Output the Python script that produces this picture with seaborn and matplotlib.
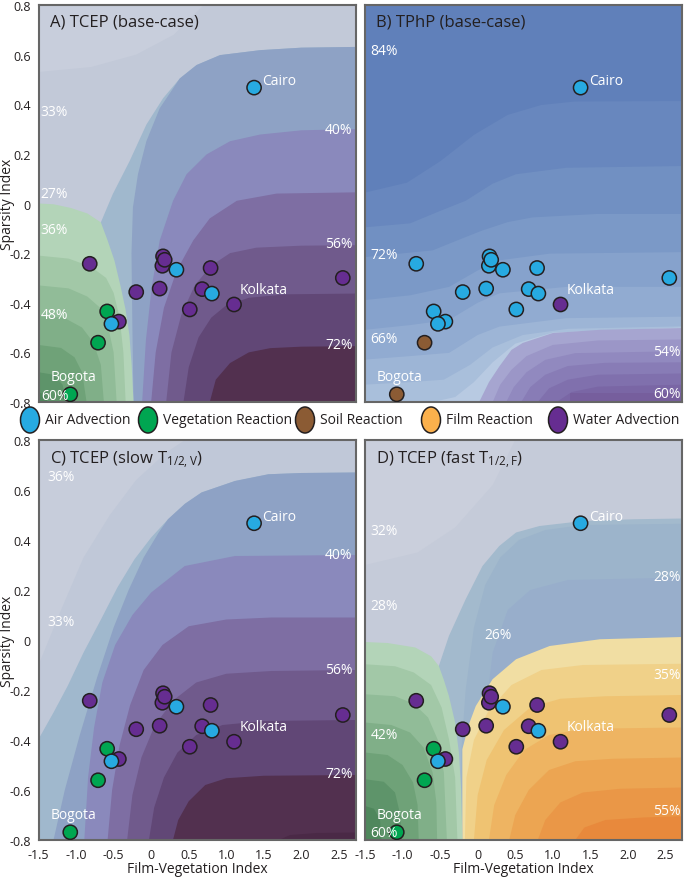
import matplotlib
matplotlib.use("Agg")
import matplotlib.pyplot as plt
from matplotlib.patches import Ellipse
import pandas as pd
import seaborn as sns

# ---- site positions (same in every panel) ----
fvi = [1.37, -0.818, -0.586, -0.707, -1.077, -0.430, -0.529, -0.199, 0.113, 0.158,
       0.149, 0.180, 0.336, 0.514, 0.679, 0.808, 0.791, 1.103, 2.551]
spi = [0.467, -0.243, -0.435, -0.561, -0.769, -0.476, -0.485, -0.357, -0.343, -0.213,
       -0.251, -0.227, -0.267, -0.427, -0.345, -0.363, -0.260, -0.407, -0.300]

# dominant process per site
dom_base = ["air", "water", "veg", "veg", "veg", "water", "air", "water", "water", "water",
            "water", "water", "air", "water", "water", "air", "water", "water", "water"]
dom_tphp = ["air", "air", "air", "soil", "soil", "air", "air", "air", "air", "air",
            "air", "air", "air", "air", "air", "air", "air", "water", "air"]

city_names = ["Cairo", "Kolkata", "Bogota"]
city_x = [1.48, 1.18, -1.344]
city_y = [0.495, -0.347, -0.699]

proc_keys = ["air", "veg", "soil", "film", "water"]
proc_labels = ["Air Advection", "Vegetation Reaction", "Soil Reaction", "Film Reaction", "Water Advection"]
proc_colors = ["#27aae1", "#00a651", "#8b5b34", "#fbb04c", "#662d91"]

XMIN, XMAX, YMIN, YMAX = -1.5, 2.72, -0.8, 0.8

# ---- contour band boundaries ----
grey_a = [(-0.67, -0.076), (-0.511, 0.038), (-0.287, 0.171), (-0.064, 0.318), (0.158, 0.424),
          (0.381, 0.504), (0.604, 0.558), (0.916, 0.598), (1.451, 0.618), (2.0, 0.628), (2.72, 0.631)]
wat_a = [
    [(-0.235, -0.8), (-0.25, -0.5), (-0.262, -0.2), (-0.243, -0.016), (-0.176, 0.118), (-0.064, 0.251),
     (0.114, 0.384), (0.381, 0.504), (0.604, 0.558), (0.916, 0.598), (1.451, 0.618), (2.0, 0.628), (2.72, 0.631)],
    [(-0.12, -0.8), (-0.07, -0.55), (0.01, -0.33), (0.114, -0.149), (0.291, 0.011), (0.471, 0.118),
     (0.738, 0.198), (1.05, 0.251), (1.451, 0.278), (2.0, 0.295), (2.72, 0.30)],
    [(0.0, -0.8), (0.06, -0.6), (0.17, -0.42), (0.34, -0.27), (0.56, -0.149), (0.78, -0.06),
     (1.14, 0.011), (1.67, 0.04), (2.72, 0.045)],
    [(0.2, -0.8), (0.27, -0.6), (0.4, -0.45), (0.58, -0.33), (0.8, -0.25), (1.05, -0.2),
     (1.4, -0.178), (2.0, -0.17), (2.72, -0.168)],
    [(0.43, -0.8), (0.5, -0.66), (0.63, -0.54), (0.8, -0.46), (1.0, -0.41), (1.3, -0.38),
     (1.8, -0.366), (2.72, -0.363)],
    [(0.78, -0.8), (0.86, -0.71), (1.05, -0.643), (1.3, -0.6), (1.584, -0.583), (2.0, -0.577), (2.72, -0.575)],
]
veg_a = [
    [(-1.5, 0.0), (-1.3, -0.003), (-1.07, -0.018), (-0.85, -0.04), (-0.67, -0.076), (-0.58, -0.149),
     (-0.49, -0.229), (-0.41, -0.33), (-0.34, -0.429), (-0.29, -0.53), (-0.26, -0.65), (-0.235, -0.8)],
    [(-1.5, -0.21), (-1.1, -0.222), (-0.8, -0.255), (-0.6, -0.3), (-0.5, -0.36), (-0.42, -0.46),
     (-0.37, -0.6), (-0.34, -0.8)],
    [(-1.5, -0.33), (-1.1, -0.342), (-0.85, -0.375), (-0.68, -0.42), (-0.57, -0.5), (-0.5, -0.6), (-0.46, -0.8)],
    [(-1.5, -0.45), (-1.15, -0.462), (-0.92, -0.5), (-0.77, -0.56), (-0.67, -0.65), (-0.63, -0.8)],
    [(-1.5, -0.57), (-1.2, -0.582), (-1.02, -0.62), (-0.92, -0.68), (-0.86, -0.8)],
    [(-1.5, -0.68), (-1.3, -0.69), (-1.18, -0.73), (-1.12, -0.8)],
    [(-1.5, -0.76), (-1.42, -0.77), (-1.38, -0.8)],
]

air_b = [
    [(-1.5, 0.044), (-0.941, 0.084), (-0.495, 0.171), (-0.048, 0.277), (0.399, 0.357), (0.846, 0.397),
     (1.292, 0.411), (2.72, 0.413)],
    [(-1.5, -0.096), (-0.9, -0.08), (-0.5, -0.03), (-0.16, 0.011), (0.2, 0.08), (0.51, 0.118), (1.18, 0.144), (2.72, 0.151)],
    [(-1.5, -0.216), (-0.6, -0.189), (-0.2, -0.14), (0.06, -0.109), (0.4, -0.075), (0.73, -0.056), (1.6, -0.042), (2.72, -0.042)],
    [(-1.5, -0.389), (-0.9, -0.37), (-0.38, -0.336), (0.0, -0.27), (0.29, -0.229), (0.96, -0.202), (2.72, -0.196)],
    [(-1.5, -0.509), (-0.9, -0.49), (-0.38, -0.469), (0.0, -0.4), (0.29, -0.362), (1.18, -0.336), (2.72, -0.336)],
    [(-1.5, -0.629), (-0.9, -0.615), (-0.38, -0.602), (0.0, -0.53), (0.29, -0.496), (1.18, -0.462), (2.72, -0.456)],
    [(-1.5, -0.73), (-0.9, -0.72), (-0.45, -0.71), (-0.1, -0.65), (0.2, -0.58), (0.6, -0.53), (1.2, -0.505), (2.72, -0.495)],
]
air_b_tail = [(-0.6, -0.8), (-0.3, -0.78), (-0.05, -0.72), (0.2, -0.64), (0.5, -0.565), (1.0, -0.52), (2.72, -0.5)]
wat_b = [
    [(0.02, -0.8), (0.15, -0.72), (0.29, -0.656), (0.45, -0.59), (0.6, -0.562), (1.0, -0.522), (1.63, -0.509), (2.72, -0.502)],
    [(0.2, -0.8), (0.3, -0.73), (0.45, -0.67), (0.65, -0.615), (1.0, -0.57), (1.6, -0.552), (2.72, -0.548)],
    [(0.38, -0.8), (0.48, -0.74), (0.65, -0.68), (0.9, -0.63), (1.3, -0.603), (2.72, -0.595)],
    [(0.58, -0.8), (0.7, -0.74), (0.9, -0.69), (1.2, -0.655), (1.7, -0.642), (2.72, -0.64)],
    [(0.8, -0.8), (0.95, -0.745), (1.2, -0.71), (1.6, -0.69), (2.72, -0.685)],
    [(1.05, -0.8), (1.25, -0.76), (1.6, -0.738), (2.72, -0.73)],
    [(1.23, -0.8), (1.23, -0.762), (2.72, -0.762)],
]

grey_c = [(-1.5, -0.397), (-1.3, -0.29), (-1.112, -0.184), (-0.9, -0.05), (-0.667, 0.083), (-0.45, 0.21),
          (-0.222, 0.323), (0.0, 0.41), (0.224, 0.483), (0.45, 0.545), (0.67, 0.59), (1.115, 0.636),
          (1.561, 0.663), (2.0, 0.668), (2.72, 0.67)]
wat_c = [
    [(-1.3, -0.8), (-1.15, -0.6), (-0.95, -0.38), (-0.72, -0.15), (-0.5, 0.05), (-0.3, 0.2), (-0.1, 0.33),
     (0.1, 0.43), (0.224, 0.483), (0.45, 0.545), (0.67, 0.59), (1.115, 0.636), (1.561, 0.663), (2.0, 0.668), (2.72, 0.67)],
    [(-0.89, -0.8), (-0.84, -0.55), (-0.76, -0.35), (-0.65, -0.17), (-0.48, -0.02), (-0.25, 0.1), (0.0, 0.19),
     (0.447, 0.296), (1.115, 0.336), (2.72, 0.34)],
    [(-0.58, -0.8), (-0.52, -0.6), (-0.42, -0.42), (-0.28, -0.26), (-0.1, -0.12), (0.15, -0.02), (0.5, 0.055),
     (1.0, 0.082), (1.6, 0.09), (2.72, 0.09)],
    [(-0.32, -0.8), (-0.25, -0.62), (-0.13, -0.47), (0.05, -0.34), (0.3, -0.24), (0.6, -0.17), (1.0, -0.135),
     (1.6, -0.124), (2.72, -0.12)],
    [(-0.03, -0.8), (0.04, -0.67), (0.17, -0.55), (0.35, -0.45), (0.6, -0.38), (0.95, -0.34), (1.5, -0.324), (2.72, -0.32)],
    [(0.29, -0.8), (0.36, -0.72), (0.5, -0.645), (0.72, -0.58), (1.0, -0.553), (1.5, -0.543), (2.72, -0.54)],
    [(1.7, -0.8), (1.85, -0.78), (2.2, -0.772), (2.72, -0.77)],
]

grey_d = [(-0.517, -0.104), (-0.383, 0.016), (-0.16, 0.163), (0.064, 0.296), (0.287, 0.376), (0.511, 0.43),
          (0.823, 0.456), (1.404, 0.476), (2.075, 0.483), (2.72, 0.486)]
air_d = [
    [(-0.22, -0.45), (-0.16, -0.2), (-0.05, 0.05), (0.1, 0.22), (0.3, 0.33), (0.55, 0.4), (0.9, 0.44), (1.4, 0.46), (2.72, 0.465)],
    [(0.1, -0.3), (0.2, -0.05), (0.4, 0.12), (0.7, 0.2), (1.2, 0.24), (2.72, 0.25)],
]
film_d = [
    [(-0.204, -0.8), (-0.204, -0.437), (-0.12, -0.34), (-0.025, -0.264), (0.198, -0.157), (0.511, -0.077),
     (0.958, -0.024), (1.628, 0.003), (2.72, 0.012)],
    [(-0.17, -0.8), (-0.15, -0.55), (-0.05, -0.4), (0.15, -0.28), (0.45, -0.18), (0.85, -0.12), (1.4, -0.1), (2.72, -0.095)],
    [(-0.05, -0.8), (0.0, -0.62), (0.12, -0.48), (0.35, -0.36), (0.7, -0.27), (1.1, -0.235), (1.7, -0.225), (2.72, -0.22)],
    [(0.15, -0.8), (0.22, -0.66), (0.38, -0.54), (0.62, -0.44), (0.95, -0.38), (1.4, -0.355), (2.72, -0.35)],
    [(0.42, -0.8), (0.5, -0.7), (0.68, -0.6), (0.95, -0.52), (1.3, -0.485), (1.8, -0.475), (2.72, -0.47)],
    [(0.8, -0.8), (0.9, -0.72), (1.1, -0.65), (1.4, -0.61), (1.9, -0.595), (2.72, -0.59)],
    [(1.3, -0.8), (1.42, -0.75), (1.7, -0.72), (2.2, -0.71), (2.72, -0.705)],
]
veg_d = [
    [(-1.5, -0.008), (-1.2, -0.012), (-0.83, -0.03), (-0.62, -0.065), (-0.517, -0.104), (-0.45, -0.16),
     (-0.383, -0.224), (-0.3, -0.33), (-0.25, -0.45), (-0.22, -0.6), (-0.204, -0.8)],
    [(-1.5, -0.097), (-1.1, -0.105), (-0.85, -0.13), (-0.62, -0.18), (-0.48, -0.27), (-0.38, -0.4), (-0.3, -0.55), (-0.27, -0.8)],
    [(-1.5, -0.217), (-1.1, -0.225), (-0.85, -0.255), (-0.66, -0.31), (-0.53, -0.4), (-0.45, -0.53), (-0.41, -0.8)],
    [(-1.5, -0.33), (-1.15, -0.34), (-0.9, -0.37), (-0.72, -0.43), (-0.6, -0.53), (-0.55, -0.65), (-0.54, -0.8)],
    [(-1.5, -0.45), (-1.2, -0.46), (-1.0, -0.5), (-0.86, -0.57), (-0.8, -0.66), (-0.785, -0.8)],
    [(-1.5, -0.557), (-1.25, -0.567), (-1.1, -0.61), (-1.03, -0.7), (-1.01, -0.8)],
    [(-1.5, -0.664), (-1.38, -0.675), (-1.3, -0.72), (-1.28, -0.8)],
]

water_cols = ["#8ea2c5", "#8a89bc", "#7e6ea3", "#705a8c", "#614776", "#52304f", "#4a2946"]
veg_cols = ["#b3d4b8", "#a2c8a7", "#91bc98", "#80af88", "#6fa278", "#5e946a", "#4f875c"]
tphp_air_cols = ["#6887be", "#7190c2", "#7b99c7", "#86a2cc", "#91abd1", "#9db5d6", "#a9bfdb", "#b8cae2"]
tphp_wat_cols = ["#a6a5d0", "#9b96c7", "#9189bf", "#887cb6", "#8070ad", "#7a66a5", "#765e9d"]
film_cols = ["#f1dea3", "#f0d189", "#efc372", "#eeb462", "#eca552", "#ea9747", "#e8893c"]

pct_a = [("33%", -1.47, 0.371, "left"), ("27%", -1.47, 0.041, "left"), ("36%", -1.47, -0.103, "left"),
         ("48%", -1.47, -0.449, "left"), ("60%", -1.47, -0.772, "left"), ("40%", 2.68, 0.297, "right"),
         ("56%", 2.68, -0.163, "right"), ("72%", 2.69, -0.569, "right")]
pct_b = [("84%", -1.43, 0.618, "left"), ("72%", -1.43, -0.205, "left"), ("66%", -1.43, -0.546, "left"),
         ("54%", 2.70, -0.595, "right"), ("60%", 2.70, -0.766, "right")]
pct_c = [("36%", -1.38, 0.655, "left"), ("33%", -1.38, 0.074, "left"), ("40%", 2.68, 0.343, "right"),
         ("56%", 2.68, -0.117, "right"), ("72%", 2.69, -0.533, "right")]
pct_d = [("32%", -1.43, 0.436, "left"), ("28%", -1.43, 0.136, "left"), ("26%", 0.09, 0.023, "left"),
         ("28%", 2.70, 0.253, "right"), ("35%", 2.70, -0.137, "right"), ("42%", -1.43, -0.377, "left"),
         ("55%", 2.70, -0.684, "right"), ("60%", -1.43, -0.77, "left")]

xticks = [-1.5, -1.0, -0.5, 0, 0.5, 1.0, 1.5, 2.0, 2.5]
xtick_labels = ["-1.5", "-1.0", "-0.5", "0", "0.5", "1.0", "1.5", "2.0", "2.5"]
yticks = [-0.8, -0.6, -0.4, -0.2, 0, 0.2, 0.4, 0.6, 0.8]
ytick_labels = ["-0.8", "-0.6", "-0.4", "-0.2", "0", "0.2", "0.4", "0.6", "0.8"]

sns.set_style("white")
plt.rcParams["font.family"] = ["Open Sans", "DejaVu Sans"]
plt.rcParams["mathtext.default"] = "regular"


def band(ax, pts, color, side):
    xs = [p[0] for p in pts]
    ys = [p[1] for p in pts]
    if side == "right":      # region below / right of the boundary
        xs += [XMAX, xs[0]]
        ys += [YMIN, YMIN]
    elif side == "left":     # region toward bottom-left corner
        xs += [XMIN]
        ys += [YMIN]
    elif side == "below":    # boundary spans left->right edge
        xs += [XMAX, XMIN]
        ys += [YMIN, YMIN]
    elif side == "top":      # region toward top-left corner
        xs += [XMIN]
        ys += [YMAX]
    ax.fill(xs, ys, color=color, lw=0, zorder=1)


def background(ax, key):
    if key == "A":
        ax.set_facecolor("#c2c9d8")
        band(ax, [(-1.5, 0.53), (-0.8, 0.55), (-0.2, 0.6), (0.3, 0.68), (0.7, 0.8)], "#c8cedc", "top")
        band(ax, grey_a, "#a0b8cd", "right")
        for pts, c in zip(wat_a, water_cols):
            band(ax, pts, c, "right")
        for pts, c in zip(veg_a, veg_cols):
            band(ax, pts, c, "left")
    elif key == "B":
        ax.set_facecolor("#6080ba")
        for pts, c in zip(air_b, tphp_air_cols):
            band(ax, pts, c, "below")
        band(ax, air_b_tail, tphp_air_cols[-1], "right")
        for pts, c in zip(wat_b, tphp_wat_cols):
            band(ax, pts, c, "right")
    elif key == "C":
        ax.set_facecolor("#c0c8d8")
        band(ax, [(-1.5, -0.1), (-1.2, 0.12), (-0.9, 0.33), (-0.55, 0.5), (-0.2, 0.64), (0.2, 0.75), (0.45, 0.8)],
             "#c7cddb", "top")
        band(ax, grey_c, "#a0b8cd", "right")
        for pts, c in zip(wat_c, water_cols):
            band(ax, pts, c, "right")
    else:
        ax.set_facecolor("#c5cbd9")
        band(ax, [(-1.5, 0.3), (-0.8, 0.35), (-0.3, 0.45), (0.2, 0.62), (0.5, 0.8)], "#cacfdc", "top")
        band(ax, grey_d, "#a3bacd", "right")
        for pts, c in zip(air_d, ["#9cb4cb", "#98aecb"]):
            band(ax, pts, c, "right")
        for pts, c in zip(film_d, film_cols):
            band(ax, pts, c, "right")
        for pts, c in zip(veg_d, veg_cols):
            band(ax, pts, c, "left")


fig = plt.figure(figsize=(6.85, 8.79), dpi=100)
W, H = 685.0, 879.0
# panel boxes in pixels: left, top, height
pos = {"A": (38.5, 6, 397), "B": (365, 6, 397), "C": (38.5, 441, 400), "D": (365, 441, 400)}
titles = {"A": "A) TCEP (base-case)", "B": "B) TPhP (base-case)",
          "C": "C) TCEP (slow T$_{1/2,V}$)", "D": "D) TCEP (fast T$_{1/2,F}$)"}
doms = {"A": dom_base, "B": dom_tphp, "C": dom_base, "D": dom_base}
pcts = {"A": pct_a, "B": pct_b, "C": pct_c, "D": pct_d}
palette = dict(zip(proc_keys, proc_colors))

for key in ["A", "B", "C", "D"]:
    px, py, ph = pos[key]
    ax = fig.add_axes([px / W, 1 - (py + ph) / H, 317 / W, ph / H])
    background(ax, key)

    df = pd.DataFrame({"x": fvi, "y": spi, "dom": doms[key]})
    sns.scatterplot(data=df, x="x", y="y", hue="dom", palette=palette, s=105,
                    edgecolor="#231f20", linewidth=1.1, legend=False, ax=ax, zorder=5)

    for name, cx, cy in zip(city_names, city_x, city_y):
        ax.text(cx, cy, name, color="white", fontsize=10, ha="left", va="center", zorder=6)
    for txt, tx, ty, ha in pcts[key]:
        ax.text(tx, ty, txt, color="white", fontsize=10, ha=ha, va="center", zorder=6)

    ax.text(0.035, 0.978, titles[key], transform=ax.transAxes, fontsize=12,
            color="#231f20", ha="left", va="top", zorder=7)

    ax.set_xlim(XMIN, XMAX)
    ax.set_ylim(YMIN, YMAX)
    ax.set_xticks(xticks)
    ax.set_yticks(yticks)
    ax.tick_params(direction="out", length=4, width=1, color="#555555", labelsize=9,
                   labelcolor="#231f20", pad=1.5)
    if key in ("C", "D"):
        ax.set_xticklabels(xtick_labels)
        ax.set_xlabel("Film-Vegetation Index", fontsize=10, color="#231f20", labelpad=0)
    else:
        ax.set_xticklabels([])
        ax.set_xlabel("")
    if key in ("A", "C"):
        ax.set_yticklabels(ytick_labels)
        ax.set_ylabel("Sparsity Index", fontsize=10, color="#231f20")
        ax.yaxis.set_label_coords(-0.074, 0.5)
    else:
        ax.set_yticklabels([])
        ax.set_ylabel("")
    for sp in ax.spines.values():
        sp.set_color("#666666")
        sp.set_linewidth(1.5)

# legend row between the two rows of panels
leg_x = [30, 148, 305, 431, 558]
for lx, lab, col in zip(leg_x, proc_labels, proc_colors):
    fig.add_artist(Ellipse((lx / W, 1 - 421 / H), 19 / W, 26 / H, transform=fig.transFigure,
                           facecolor=col, edgecolor="#231f20", lw=1.1))
    fig.text((lx + 15) / W, 1 - 421 / H, lab, fontsize=10, color="#231f20", ha="left", va="center")

fig.savefig("out.png", dpi=100)
